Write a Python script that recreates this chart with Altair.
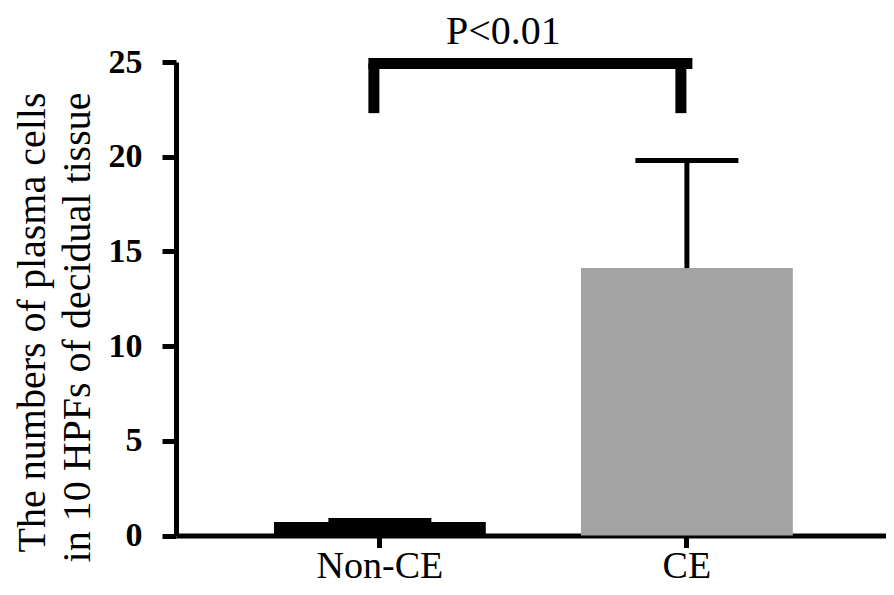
import altair as alt
import pandas as pd

groups = ["Non-CE", "CE"]
means = [0.71, 14.12]
upper = [0.792, 19.80]
bar_colors = ["#000000", "#a3a3a3"]
y_ticks = [0, 5, 10, 15, 20, 25]
y_title = ["The numbers of plasma cells", "in 10 HPFs of decidual tissue"]
sig_label = "P<0.01"
bracket_top = 24.92
bracket_bottom = 22.3
sig_y = 25.95

df = pd.DataFrame({"group": groups, "mean": means, "upper": upper, "color": bar_colors})
legs = pd.DataFrame({"group": groups, "lo": [bracket_bottom] * 2, "hi": [bracket_top] * 2})
span = pd.DataFrame({"a": [groups[0]], "b": [groups[1]], "y": [bracket_top]})
sig = pd.DataFrame({"group": [groups[0]], "y": [sig_y], "label": [sig_label]})

FONT = "'Liberation Serif', 'Times New Roman', Times, serif"

xscale = alt.Scale(domain=groups, paddingInner=0.31, paddingOuter=0.3113, align=0.5125)
yscale = alt.Scale(domain=[0, 25])

x_axis = alt.Axis(title=None, labelAngle=0, labelFont=FONT, labelFontSize=38,
                  labelColor="black", labelPadding=0, tickSize=12, tickWidth=5,
                  tickColor="black", domainWidth=5, domainColor="black")
y_axis = alt.Axis(values=y_ticks, title=y_title, labelFont=FONT, labelFontSize=34,
                  labelFontWeight="bold", labelColor="black", labelPadding=20,
                  tickSize=14, tickWidth=5, tickColor="black", domainWidth=5,
                  domainColor="black", grid=False, titleFont=FONT, titleFontSize=40,
                  titleFontWeight="normal", titleColor="black", titleAngle=270,
                  titleAlign="right", titleBaseline="alphabetic", titleX=-132,
                  titleY=30, titleLineHeight=45)

bars = alt.Chart(df).mark_bar().encode(
    x=alt.X("group:N", scale=xscale, axis=x_axis),
    y=alt.Y("mean:Q", scale=yscale, axis=y_axis),
    color=alt.Color("group:N", scale=alt.Scale(domain=groups, range=bar_colors), legend=None),
)

err = alt.Chart(df).mark_rule(color="black", strokeWidth=5).encode(
    x=alt.X("group:N", scale=xscale),
    y=alt.Y("mean:Q", scale=yscale),
    y2="upper:Q",
)

cap = alt.Chart(df).mark_tick(color="black", thickness=5, size=103, opacity=1).encode(
    x=alt.X("group:N", scale=xscale),
    y=alt.Y("upper:Q", scale=yscale),
)

leg_marks = alt.Chart(legs).mark_rule(color="black", strokeWidth=11, xOffset=-6).encode(
    x=alt.X("group:N", scale=xscale),
    y=alt.Y("lo:Q", scale=yscale),
    y2="hi:Q",
)

span_mark = alt.Chart(span).mark_rule(color="black", strokeWidth=11, strokeCap="square", xOffset=-6).encode(
    x=alt.X("a:N", scale=xscale),
    x2="b:N",
    y=alt.Y("y:Q", scale=yscale),
)

sig_text = alt.Chart(sig).mark_text(align="left", baseline="alphabetic", dx=66,
                                    font=FONT, fontSize=40, color="black").encode(
    x=alt.X("group:N", scale=xscale),
    y=alt.Y("y:Q", scale=yscale),
    text="label:N",
)

chart = alt.layer(bars, err, cap, leg_marks, span_mark, sig_text).properties(
    width=710, height=473.5,
    autosize=alt.AutoSizeParams(type="none"),
    padding={"left": 168, "top": 54, "right": 0, "bottom": 50},
).configure(background="white", font=FONT).configure_view(stroke=None).configure_axis(
    titleFont=FONT, labelFont=FONT
)

chart.save("out.html", embed_options={"renderer": "svg", "actions": False})
